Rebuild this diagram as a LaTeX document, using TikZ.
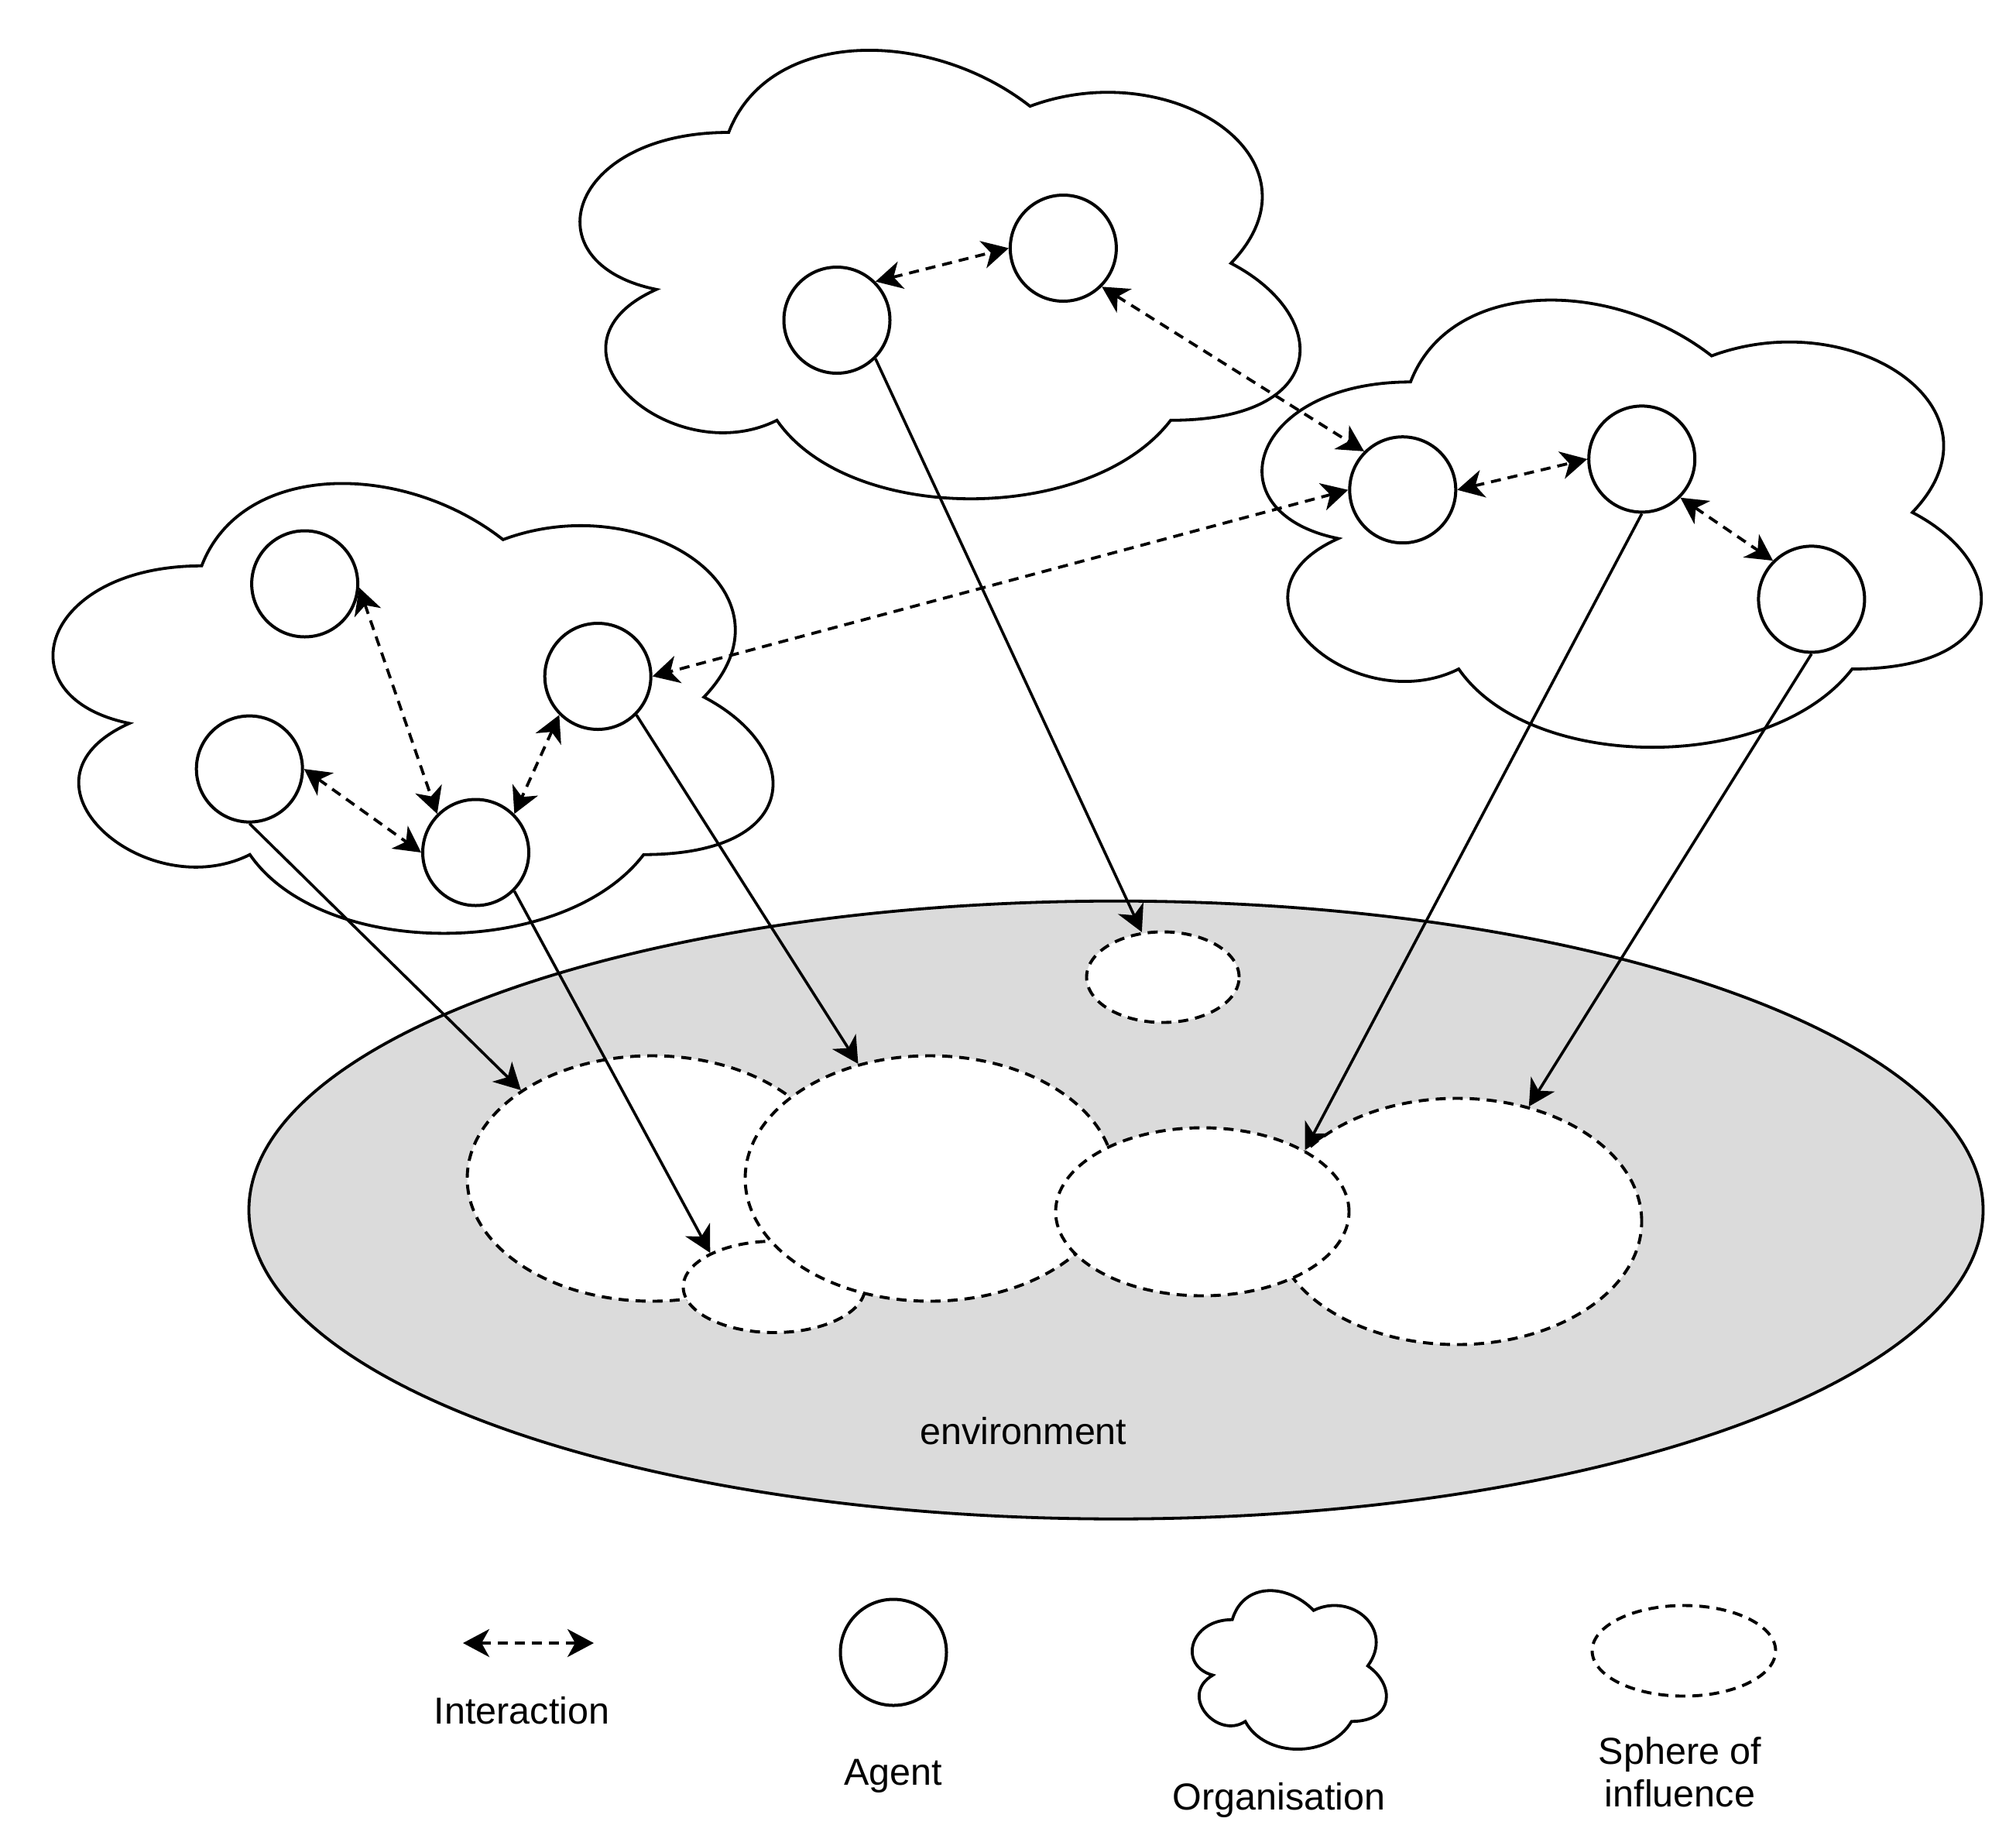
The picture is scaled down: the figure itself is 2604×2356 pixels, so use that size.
\documentclass[tikz,border=0pt]{standalone}
\usepackage{fontspec}
\setmainfont{Liberation Sans}
\usetikzlibrary{arrows.meta,shapes.geometric}
\definecolor{envgray}{RGB}{219,219,219}
\newcommand\drawcloud{\draw[cloudline] (0.25,0.25) .. controls (0.05,0.25) and (0,0.5) .. (0.16,0.55)
     .. controls (0,0.66) and (0.18,0.9) .. (0.31,0.8)
     .. controls (0.4,1) and (0.7,1) .. (0.8,0.8)
     .. controls (1,0.8) and (1,0.6) .. (0.875,0.5)
     .. controls (1,0.3) and (0.8,0.1) .. (0.625,0.2)
     .. controls (0.5,0.05) and (0.3,0.05) .. (0.25,0.25) -- cycle;}
\begin{document}
\begin{tikzpicture}[x=1pt,y=-1pt,
  >={Stealth[length=34pt,width=36pt,inset=10pt]},
  cloudline/.style={line width=3.8pt, fill=white},
  agent/.style={circle, draw, line width=4pt, fill=white, minimum size=137pt, inner sep=0pt},
  sphere/.style={ellipse, draw, dash pattern=on 13pt off 9pt, line width=3.9pt, fill=white, inner sep=0pt},
  envshape/.style={ellipse, draw, line width=3.8pt, fill=envgray, inner sep=0pt},
  interaction/.style={<->, dash pattern=on 13pt off 9pt, line width=3.8pt},
  influence/.style={->, line width=3.6pt},
  lbl/.style={font=\fontsize{48.5}{55}\selectfont, inner sep=0pt}]

\fill[white] (0,0) rectangle (2604,2356);
\useasboundingbox (0,0) rectangle (2604,2356);

% organisations
\begin{scope}[shift={(681.7,2)}, xscale=1038, yscale=676]
  \drawcloud
\end{scope}
\begin{scope}[shift={(1,561.3)}, xscale=1038, yscale=678]
  \drawcloud
\end{scope}
\begin{scope}[shift={(1562.7,324.8)}, xscale=1037, yscale=674]
  \drawcloud
\end{scope}

% environment
\node[envshape, minimum width=2240pt, minimum height=798pt] (env) at (1441.5,1562.7) {};
\node[lbl] (envtext) at (1322,1848) {environment};

% spheres of influence
\node[sphere, minimum width=197pt, minimum height=117pt] (sTop) at (1502,1262) {};
\node[sphere, minimum width=477pt, minimum height=317pt] (sLeft) at (842,1522) {};
\node[sphere, minimum width=235pt, minimum height=118pt] (sSmall) at (1000,1662) {};
\node[sphere, minimum width=477pt, minimum height=317pt] (sMid) at (1201,1522) {};
\node[sphere, minimum width=477pt, minimum height=318pt] (sRight) at (1882,1577.5) {};
\node[sphere, minimum width=379pt, minimum height=217pt] (sCenter) at (1553,1565) {};

% agents
\node[agent] (A1) at (1081,413.5) {};
\node[agent] (A2) at (1373.4,320.5) {};
\node[agent] (B1) at (1811.8,632.7) {};
\node[agent] (B2) at (2120.7,592.9) {};
\node[agent] (B3) at (2339.9,773.9) {};
\node[agent] (C1) at (393.6,754) {};
\node[agent] (C2) at (772.2,873.5) {};
\node[agent] (C3) at (322.2,993.1) {};
\node[agent] (C4) at (614.5,1101) {};

% interactions
\draw[interaction] (A1.45) -- (A2.180);
\draw[interaction] (A2.-45) -- (B1.135);
\draw[interaction] (B1.180) -- (C2.0);
\draw[interaction] (B1.0) -- (B2.180);
\draw[interaction] (B2.-45) -- (B3.135);
\draw[interaction] (C1.-4) -- (C4.135);
\draw[interaction] (C3.0) -- (C4.180);
\draw[interaction] (C2.225) -- (C4.45);

% influences
\draw[influence] (A1.-45) -- (sTop.115);
\draw[influence] (C2.-45) -- (sMid.122);
\draw[influence] (C3.-90) -- (sLeft.146);
\draw[influence] (C4.-45) -- (sSmall.152);
\draw[influence] (B2.-90) -- (sCenter.31);
\draw[influence] (B3.-90) -- (sRight.58);

% legend
\coordinate (li1) at (598,2122);
\coordinate (li2) at (767,2122);
\draw[interaction] (li1) -- (li2);
\node[lbl] (tInter) at (674,2209) {Interaction};

\node[agent] (lAgent) at (1154,2134) {};
\node[lbl] (tAgent) at (1154,2294) {Agent};

\begin{scope}[shift={(1521.7,2032)}, xscale=280, yscale=239]
  \drawcloud
\end{scope}
\node[lbl] (tOrg) at (1652,2325) {Organisation};

\node[sphere, minimum width=237pt, minimum height=117pt] (lSphere) at (2175,2132) {};
\node[lbl, align=center] (tSphere) at (2170,2289) {Sphere of\\influence};
\end{tikzpicture}
\end{document}
